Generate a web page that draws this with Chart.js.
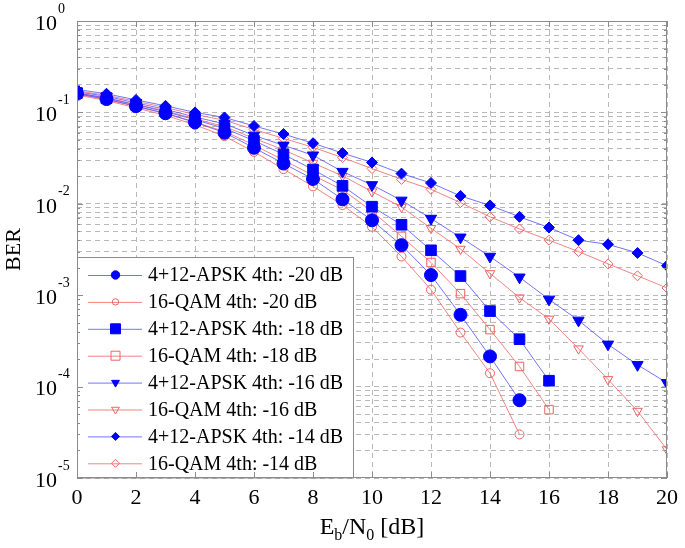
<!DOCTYPE html>
<html>
<head>
<meta charset="utf-8">
<script src="https://cdn.jsdelivr.net/npm/chart.js@4.4.1/dist/chart.umd.min.js"></script>
<style>
  html, body { margin: 0; padding: 0; background: #fff; }
  canvas { display: block; }
</style>
</head>
<body>
<canvas id="ber" width="685" height="548"></canvas>
<script>
// Eb/N0 in dB
const snr = [0, 1, 2, 3, 4, 5, 6, 7, 8, 9, 10, 11, 12, 13, 14, 15, 16, 17, 18, 19, 20];

// BER
const apsk20 = [0.160, 0.140, 0.117, 0.098, 0.078, 0.060, 0.041, 0.0276, 0.0187, 0.0112, 0.0066, 0.00353, 0.00166, 6.1e-4, 2.14e-4, 7.1e-5];
const qam20 = [0.155, 0.135, 0.112, 0.093, 0.073, 0.055, 0.037, 0.024, 0.0155, 0.0097, 0.0056, 0.00265, 0.00115, 3.9e-4, 1.4e-4, 3.0e-5];
const apsk18 = [0.163, 0.143, 0.121, 0.102, 0.083, 0.067, 0.049, 0.0347, 0.0237, 0.0157, 0.0093, 0.0059, 0.0031, 0.00162, 6.7e-4, 3.3e-4, 1.16e-4];
const qam18 = [0.158, 0.138, 0.116, 0.097, 0.078, 0.062, 0.044, 0.030, 0.0205, 0.0142, 0.0083, 0.0044, 0.00228, 0.00104, 4.2e-4, 1.66e-4, 5.6e-5];
const apsk16 = [0.168, 0.150, 0.127, 0.108, 0.089, 0.075, 0.056, 0.0436, 0.034, 0.0225, 0.0161, 0.0109, 0.0069, 0.0043, 0.00265, 0.00157, 9.0e-4, 5.3e-4, 2.9e-4, 1.73e-4, 1.1e-4];
const qam16 = [0.163, 0.145, 0.122, 0.104, 0.085, 0.070, 0.052, 0.039, 0.028, 0.0202, 0.0136, 0.0092, 0.0054, 0.0032, 0.00173, 9.4e-4, 5.5e-4, 2.6e-4, 1.2e-4, 5.4e-5, 2.05e-5];
const apsk14 = [0.178, 0.160, 0.137, 0.118, 0.100, 0.088, 0.071, 0.058, 0.046, 0.0359, 0.0283, 0.0214, 0.0169, 0.0122, 0.0096, 0.0072, 0.0055, 0.0040, 0.0036, 0.0029, 0.0021];
const qam14 = [0.172, 0.154, 0.132, 0.113, 0.095, 0.082, 0.065, 0.052, 0.0415, 0.032, 0.0243, 0.0185, 0.0144, 0.0103, 0.0072, 0.0053, 0.0040, 0.0030, 0.0022, 0.00163, 0.0012];

const seriesLabels = [
  "4+12-APSK 4th: -20 dB", "16-QAM 4th: -20 dB",
  "4+12-APSK 4th: -18 dB", "16-QAM 4th: -18 dB",
  "4+12-APSK 4th: -16 dB", "16-QAM 4th: -16 dB",
  "4+12-APSK 4th: -14 dB", "16-QAM 4th: -14 dB"
];
const seriesValues = [apsk20, qam20, apsk18, qam18, apsk16, qam16, apsk14, qam14];

const xTicks = [0, 2, 4, 6, 8, 10, 12, 14, 16, 18, 20];
const yExponents = [0, -1, -2, -3, -4, -5];

const BLUE_LINE = "rgba(70, 70, 255, 0.75)";
const RED_LINE = "rgba(240, 110, 110, 0.85)";
const FONT = '"Liberation Serif", "Times New Roman", serif';

// marker look per series: style, rotation, chart radius, legend radius
const markers = [
  { style: "circle", rot: 0, r: 6.5, lr: 4.2 },
  { style: "circle", rot: 0, r: 4.5, lr: 3.2 },
  { style: "rect", rot: 0, r: 7.5, lr: 5 },
  { style: "rect", rot: 0, r: 6, lr: 4.5 },
  { style: "triangle", rot: 180, r: 6.5, lr: 4.5 },
  { style: "triangle", rot: 180, r: 5.5, lr: 4.5 },
  { style: "rectRot", rot: 0, r: 5.5, lr: 4 },
  { style: "rectRot", rot: 0, r: 5, lr: 4 }
];

function buildDatasets() {
  return seriesValues.map((values, i) => {
    const blue = i % 2 === 0;
    const m = markers[i];
    return {
      label: seriesLabels[i],
      data: values.map((v, k) => ({ x: snr[k], y: v })),
      borderColor: blue ? BLUE_LINE : RED_LINE,
      borderWidth: 1,
      pointStyle: m.style,
      rotation: m.rot,
      pointRadius: m.r,
      pointBorderWidth: 1,
      pointBackgroundColor: blue ? "#0000ff" : "rgba(0,0,0,0)",
      pointBorderColor: blue ? "#0000ff" : "#f06060",
      tension: 0,
      fill: false
    };
  });
}

function yTickValues() {
  const vals = [];
  for (let e = -5; e <= 0; e++) {
    for (let m = 1; m <= 9; m++) {
      const v = m * Math.pow(10, e);
      if (v <= 1.0000001) vals.push(v);
    }
  }
  return vals;
}

// small marker painter for the legend
function drawMarker(ctx, style, x, y, r, fill, stroke) {
  ctx.beginPath();
  if (style === "circle") {
    ctx.arc(x, y, r, 0, Math.PI * 2);
  } else if (style === "rect") {
    ctx.rect(x - r, y - r, 2 * r, 2 * r);
  } else if (style === "triangle") {
    ctx.moveTo(x, y + r);
    ctx.lineTo(x - r * 0.87, y - r * 0.5);
    ctx.lineTo(x + r * 0.87, y - r * 0.5);
    ctx.closePath();
  } else if (style === "rectRot") {
    ctx.moveTo(x, y - r);
    ctx.lineTo(x + r, y);
    ctx.lineTo(x, y + r);
    ctx.lineTo(x - r, y);
    ctx.closePath();
  }
  if (fill) {
    ctx.fillStyle = fill;
    ctx.fill();
  }
  ctx.strokeStyle = stroke;
  ctx.lineWidth = 1;
  ctx.stroke();
}

const legendBox = {
  id: "legendBox",
  afterDatasetsDraw(chart) {
    const { ctx, chartArea } = chart;
    const left = chartArea.left;
    const top = 257;
    const width = 276;
    const height = chartArea.bottom - top;
    ctx.save();
    ctx.fillStyle = "#fff";
    ctx.fillRect(left, top, width, height);
    ctx.strokeStyle = "#8c8c8c";
    ctx.lineWidth = 1;
    ctx.strokeRect(left + 0.5, top + 0.5, width, height - 0.5);

    ctx.font = "20px " + FONT;
    ctx.textBaseline = "middle";
    ctx.textAlign = "left";
    seriesLabels.forEach((label, i) => {
      const y = top + 18 + i * 26.9;
      const blue = i % 2 === 0;
      ctx.strokeStyle = blue ? BLUE_LINE : RED_LINE;
      ctx.beginPath();
      ctx.moveTo(left + 11, y + 0.5);
      ctx.lineTo(left + 65, y + 0.5);
      ctx.stroke();
      const m = markers[i];
      drawMarker(ctx, m.style, left + 38.5, y, m.lr, blue ? "#0000ff" : null, blue ? "#0000ff" : "#f06060");
      ctx.fillStyle = "#000";
      ctx.fillText(label, left + 71, y + 1);
    });
    ctx.restore();
  }
};

const frameAndLabels = {
  id: "frameAndLabels",
  afterDraw(chart) {
    const { ctx, chartArea, scales } = chart;
    const { left, right, top, bottom } = chartArea;
    ctx.save();

    // box and inward ticks
    ctx.strokeStyle = "#8c8c8c";
    ctx.lineWidth = 1;
    ctx.strokeRect(left + 0.5, top + 0.5, right - left - 1, bottom - top - 1);
    ctx.beginPath();
    xTicks.forEach(v => {
      const x = Math.round(scales.x.getPixelForValue(v)) + 0.5;
      ctx.moveTo(x, bottom); ctx.lineTo(x, bottom - 6);
      ctx.moveTo(x, top); ctx.lineTo(x, top + 6);
    });
    yTickValues().forEach(v => {
      const y = Math.round(scales.y.getPixelForValue(v)) + 0.5;
      const major = Math.abs(Math.log10(v) - Math.round(Math.log10(v))) < 1e-6;
      const len = major ? 6 : 3;
      ctx.moveTo(left, y); ctx.lineTo(left + len, y);
      ctx.moveTo(right, y); ctx.lineTo(right - len, y);
    });
    ctx.stroke();

    // y tick labels as 10^e
    ctx.fillStyle = "#000";
    ctx.textBaseline = "middle";
    yExponents.forEach(e => {
      const y = scales.y.getPixelForValue(Math.pow(10, e));
      ctx.font = "22px " + FONT;
      ctx.textAlign = "right";
      ctx.fillText("10", 57, y + 3);
      ctx.font = "14px " + FONT;
      ctx.textAlign = "left";
      ctx.fillText(String(e), 58, y - 12);
    });

    // y axis title
    ctx.save();
    ctx.translate(14, (top + bottom) / 2);
    ctx.rotate(-Math.PI / 2);
    ctx.font = "22px " + FONT;
    ctx.textAlign = "center";
    ctx.fillText("BER", 0, 0);
    ctx.restore();

    // x axis title E_b/N_0 [dB]
    const parts = [
      { t: "E", sub: false }, { t: "b", sub: true },
      { t: "/N", sub: false }, { t: "0", sub: true },
      { t: " [dB]", sub: false }
    ];
    const mainFont = "24px " + FONT;
    const subFont = "16px " + FONT;
    let total = 0;
    parts.forEach(p => {
      ctx.font = p.sub ? subFont : mainFont;
      p.w = ctx.measureText(p.t).width;
      total += p.w;
    });
    let x = (left + right) / 2 - total / 2;
    const base = 534;
    ctx.textAlign = "left";
    ctx.textBaseline = "alphabetic";
    parts.forEach(p => {
      ctx.font = p.sub ? subFont : mainFont;
      ctx.fillText(p.t, x, p.sub ? base + 6 : base);
      x += p.w;
    });
    ctx.restore();
  }
};

new Chart(document.getElementById("ber"), {
  type: "line",
  data: { datasets: buildDatasets() },
  options: {
    animation: false,
    responsive: false,
    devicePixelRatio: 1,
    layout: { padding: { top: 21, right: 14, left: 0, bottom: 0 } },
    plugins: {
      legend: { display: false },
      tooltip: { enabled: false }
    },
    scales: {
      x: {
        type: "linear",
        min: 0,
        max: 20,
        afterBuildTicks: s => { s.ticks = xTicks.map(v => ({ value: v })); },
        afterFit: s => { s.height = 70; },
        grid: { color: "#b8b8b8", lineWidth: 1, drawTicks: false },
        border: { display: false, dash: [5, 4] },
        ticks: {
          color: "#000",
          font: { family: FONT, size: 22 },
          padding: 7,
          maxRotation: 0,
          autoSkip: false
        }
      },
      y: {
        type: "logarithmic",
        min: 1e-5,
        max: 1,
        afterBuildTicks: s => { s.ticks = yTickValues().map(v => ({ value: v })); },
        afterFit: s => { s.width = 77; },
        grid: { color: "#b8b8b8", lineWidth: 1, drawTicks: false },
        border: { display: false, dash: [5, 4] },
        ticks: { display: false }
      }
    }
  },
  plugins: [legendBox, frameAndLabels]
});
</script>
</body>
</html>
